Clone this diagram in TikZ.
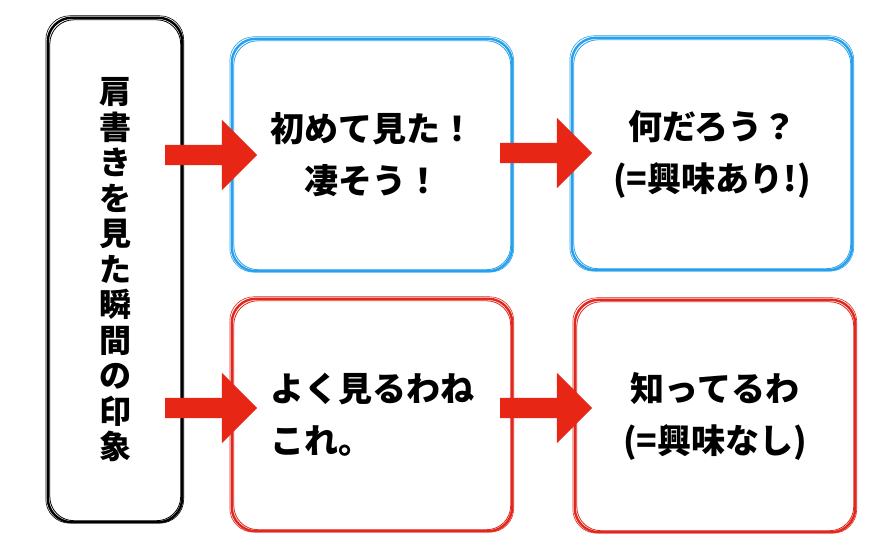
\documentclass[tikz,border=0pt]{standalone}
\usepackage{fontspec}
\newfontfamily\cjk{Noto Sans CJK JP}
\usetikzlibrary{shapes.arrows,positioning}
\definecolor{boxblue}{RGB}{40,160,235}
\definecolor{boxred}{RGB}{225,40,30}
\definecolor{arrowred}{RGB}{232,38,22}
\tikzset{
    rough/.style={line width=2.4pt, rounded corners=24pt},
    panel/.style={draw=none, minimum width=280pt, minimum height=232pt},
    said/.style={font=\cjk\bfseries\fontsize{34}{52}\selectfont, align=center},
    push/.style={single arrow, fill=arrowred, draw=none, minimum height=92pt, minimum width=70pt, inner sep=10pt, single arrow head extend=25pt, single arrow tip angle=90}
}
\begin{document}
\begin{tikzpicture}[x=1pt,y=1pt]
    \useasboundingbox (0,0) rectangle (884,554);
    % frames
    \node [panel, minimum width=134pt, minimum height=504pt] (impression) at (115,284) {};
    \node [panel] (first) at (372,399) {};
    \node [panel] (curious) at (712,400) {};
    \node [panel] (seen) at (372,139) {};
    \node [panel] (known) at (715,138) {};
    \foreach \n/\c in {impression/black, first/boxblue, curious/boxblue, seen/boxred, known/boxred} {
        \draw [rough, \c] (\n.south west) rectangle (\n.north east);
        \draw [rough, \c, line width=0.8pt] ([shift={(2,1.5)}]\n.south west) rectangle ([shift={(-1.5,-2)}]\n.north east);
        \draw [rough, \c, line width=0.6pt] ([shift={(-2,-1)}]\n.south west) rectangle ([shift={(1.5,2)}]\n.north east);
    }
    % texts
    \node [said, font=\cjk\bfseries\fontsize{32}{35.5}\selectfont] at (impression) {肩\\書\\き\\を\\見\\た\\瞬\\間\\の\\印\\象};
    \node [said] at (first) {初めて見た！\\凄そう！};
    \node [said] at (curious) {何だろう？\\(=興味あり!)};
    \node [said, align=left] at (seen) {よく見るわね\\これ。};
    \node [said] at (known) {知ってるわ\\(=興味なし)};
    % arrows
    \node [push] at (206,399) {};
    \node [push] at (541,401) {};
    \node [push] at (206,146) {};
    \node [push] at (541,146) {};
\end{tikzpicture}
\end{document}
